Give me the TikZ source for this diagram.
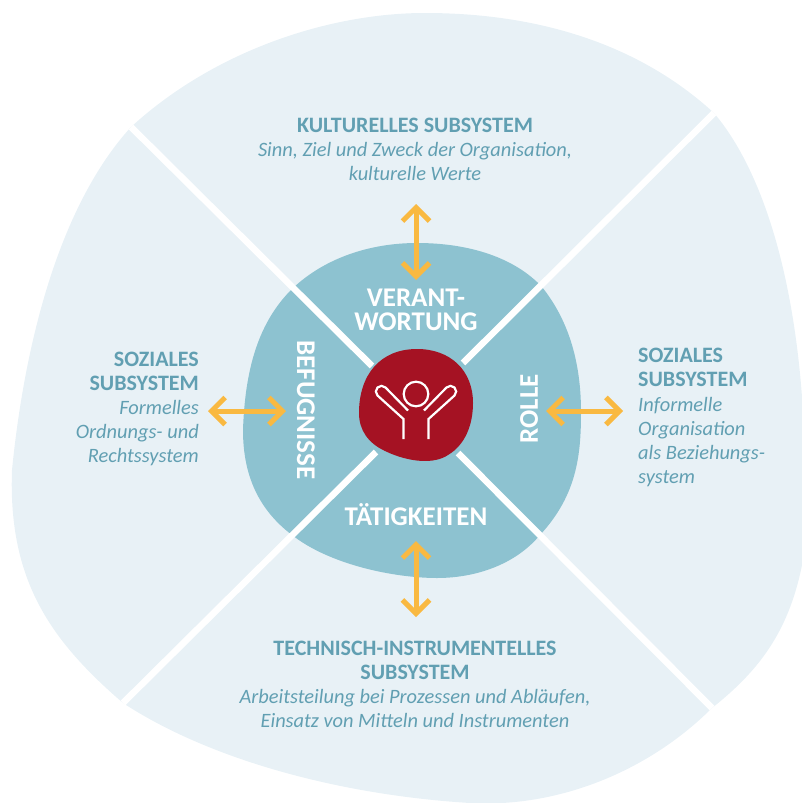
\documentclass[tikz,border=0pt]{standalone}
\usepackage{fontspec}
\setmainfont{Carlito}
\usetikzlibrary{arrows.meta}
\definecolor{outerblue}{HTML}{E8F1F6}
\definecolor{innerblue}{HTML}{8DC2D0}
\definecolor{corered}{HTML}{A51223}
\definecolor{txtblue}{HTML}{619FB2}
\definecolor{arrowyellow}{HTML}{F9B941}
\tikzset{
  x=1pt,y=-1pt,
  divider/.style={draw=white,line width=6.5pt},
  updown/.style={draw=arrowyellow,line width=5pt,{Straight Barb[length=13.5pt,width=27pt,line width=5pt]}-{Straight Barb[length=13.5pt,width=27pt,line width=5pt]}},
  icon/.style={draw=white,line width=2.2pt},
  subb/.style={inner sep=0,text=txtblue,font=\fontsize{22}{24}\selectfont\bfseries,anchor=base},
  subi/.style={inner sep=0,text=txtblue,font=\fontsize{20.4}{24}\selectfont\itshape,anchor=base},
  seg/.style={inner sep=0,text=white,font=\fontsize{27}{24}\selectfont\bfseries},
}
\begin{document}
\begin{tikzpicture}
\useasboundingbox (0,0) rectangle (802,803);
\clip (0,0) rectangle (802,803);
% outer blob
\fill[outerblue] (131,127) .. controls (215,50) and (330,13) .. (425,13)
  .. controls (540,13) and (640,45) .. (714,113)
  .. controls (775,185) and (815,340) .. (803,560)
  .. controls (790,630) and (760,670) .. (712,708)
  .. controls (650,770) and (560,808) .. (470,803)
  .. controls (340,795) and (210,760) .. (123,703)
  .. controls (50,640) and (8,580) .. (12,470)
  .. controls (25,340) and (60,205) .. (131,127) -- cycle;
% inner blob
\fill[innerblue] (293,288) .. controls (325,258) and (370,243) .. (417,243)
  .. controls (470,243) and (515,258) .. (542,287)
  .. controls (570,322) and (581,365) .. (581,412)
  .. controls (581,455) and (577,495) .. (540,535)
  .. controls (515,565) and (475,578) .. (437,578)
  .. controls (395,578) and (330,565) .. (292,535)
  .. controls (255,507) and (243,470) .. (243,430)
  .. controls (245,370) and (258,322) .. (293,288) -- cycle;
% dividers
\coordinate (tl) at (131,127); \coordinate (tr) at (714,113);
\coordinate (bl) at (123,703); \coordinate (br) at (712,708);
\coordinate (ctl) at (372,366); \coordinate (ctr) at (463,363);
\coordinate (cbl) at (376,452); \coordinate (cbr) at (458,453);
\draw[divider] (tl) -- (ctl);
\draw[divider] (tr) -- (ctr);
\draw[divider] (bl) -- (cbl);
\draw[divider] (br) -- (cbr);
% core
\fill[corered] (417,349) .. controls (450,349) and (473,370) .. (473,403)
  .. controls (473,425) and (465,445) .. (448,455)
  .. controls (435,464) and (410,463) .. (385,451)
  .. controls (368,443) and (359,430) .. (359,413)
  .. controls (359,375) and (380,349) .. (417,349) -- cycle;
% icon
\node[circle,icon,minimum size=24.6pt,inner sep=0] (head) at (416,394) {};
\draw[icon] (408,410.5) -- (385.5,387.5) arc[start angle=-45,end angle=-225,radius=5.66] -- (403.5,419) -- (403.5,439);
\draw[icon] (424,410.5) -- (446.5,387.5) arc[start angle=225,end angle=405,radius=5.66] -- (428.5,419) -- (428.5,439);
% arrows
\coordinate (at) at (416,204); \coordinate (ab) at (416,280);
\coordinate (bt) at (416,541); \coordinate (bb) at (416,617);
\coordinate (ll) at (208,411); \coordinate (lr) at (286,411);
\coordinate (rl) at (546,411); \coordinate (rr) at (623,411);
\draw[updown] (at) -- (ab);
\draw[updown] (bt) -- (bb);
\draw[updown] (ll) -- (lr);
\draw[updown] (rl) -- (rr);
% inner labels
\node[seg,align=center] (v) at (416,310) {VERANT-\\WORTUNG};
\node[seg] (tae) at (416,515) {TÄTIGKEITEN};
\node[seg,rotate=-90] (bef) at (306,410) {BEFUGNISSE};
\node[seg,rotate=90] (rol) at (529,409) {ROLLE};
% subsystem texts
\node[subb] (k1) at (415,132) {KULTURELLES SUBSYSTEM};
\node[subi] (k2) at (415,156) {Sinn, Ziel und Zweck der Organisation,};
\node[subi] (k3) at (415,180) {kulturelle Werte};
\node[subb,anchor=base east] (l1) at (199,366) {SOZIALES};
\node[subb,anchor=base east] (l2) at (199,390) {SUBSYSTEM};
\node[subi,anchor=base east] (l3) at (199,414) {Formelles};
\node[subi,anchor=base east] (l4) at (199,438) {Ordnungs- und};
\node[subi,anchor=base east] (l5) at (199,462) {Rechtssystem};
\node[subb,anchor=base west] (r1) at (638,362) {SOZIALES};
\node[subb,anchor=base west] (r2) at (638,386) {SUBSYSTEM};
\node[subi,anchor=base west] (r3) at (638,411) {Informelle};
\node[subi,anchor=base west] (r4) at (638,435) {Organisation};
\node[subi,anchor=base west] (r5) at (638,459) {als Beziehungs-};
\node[subi,anchor=base west] (r6) at (638,483) {system};
\node[subb] (b1) at (415,655) {TECHNISCH-INSTRUMENTELLES};
\node[subb] (b2) at (415,679) {SUBSYSTEM};
\node[subi] (b3) at (415,703) {Arbeitsteilung bei Prozessen und Abläufen,};
\node[subi] (b4) at (415,727) {Einsatz von Mitteln und Instrumenten};
\end{tikzpicture}
\end{document}
